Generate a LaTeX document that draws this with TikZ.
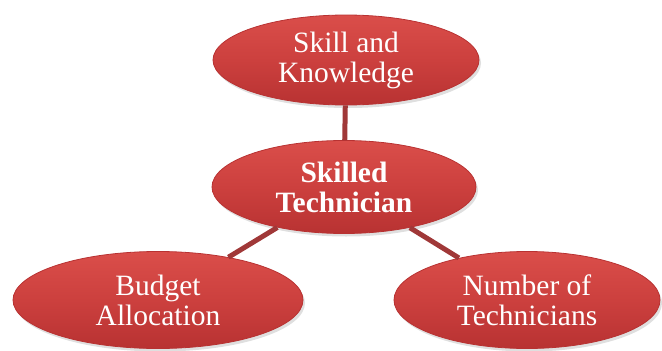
\documentclass[tikz,border=0pt]{standalone}
\usepackage{fontspec}
\setmainfont{Liberation Serif}
\usepackage{tikz}
\usetikzlibrary{shapes.geometric,shadows}

\definecolor{ballred}{RGB}{204,64,62}
\definecolor{balltop}{RGB}{218,78,74}
\definecolor{ballbot}{RGB}{184,50,50}
\definecolor{linkred}{RGB}{160,56,56}

\tikzset{
  bubble/.style={ellipse, inner sep=0pt, draw=ballbot, line width=0.8pt,
    top color=balltop, bottom color=ballbot, middle color=ballred,
    text=white, align=center, font=\fontsize{29.5}{30}\selectfont,
    drop shadow={shadow xshift=2pt, shadow yshift=-3pt, opacity=0.25}},
  link/.style={draw=linkred, line width=5pt}
}

\begin{document}
\begin{tikzpicture}[x=1pt,y=-1pt]
\useasboundingbox (0,0) rectangle (662,351);

% centres
\coordinate (K) at (346,60);
\coordinate (T) at (344,187);
\coordinate (B) at (158,300);
\coordinate (N) at (527,300);

% ellipses
\node[bubble, minimum width=266pt, minimum height=90pt] (know) at (K) {Skill and\\Knowledge};
\node[bubble, minimum width=264pt, minimum height=93pt, font=\fontsize{29.5}{30}\selectfont\bfseries] (tech) at (T) {Skilled\\Technician};
\node[bubble, minimum width=290pt, minimum height=97pt] (budget) at (B) {Budget\\Allocation};
\node[bubble, minimum width=266pt, minimum height=97pt] (number) at (N) {Number of\\Technicians};

% links
\draw[link] (know) -- (tech);
\draw[link] (tech) -- (budget);
\draw[link] (tech) -- (number);

\end{tikzpicture}
\end{document}
